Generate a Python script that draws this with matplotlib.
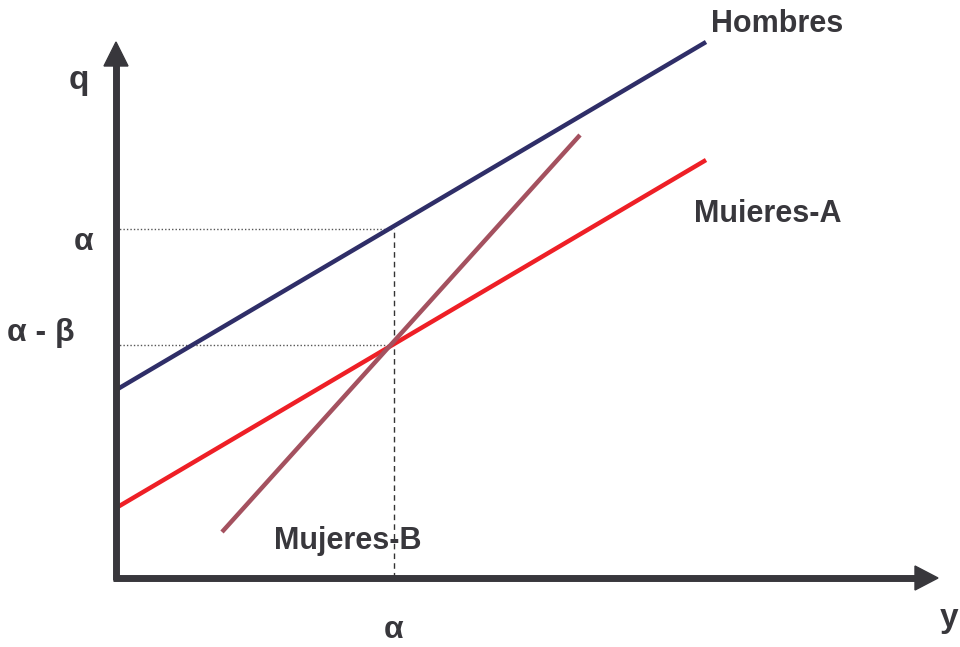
import matplotlib
matplotlib.use("Agg")
import matplotlib.pyplot as plt

plt.rcParams['font.family'] = ['Liberation Sans', 'DejaVu Sans']

# Schematic coordinates (origin at axis corner, y upward), in chart units
series_names = ["Hombres", "Muieres-A", "Mujeres-B"]
hombres_x = [0, 590]
hombres_y = [188, 536]
mujA_x = [0, 590]
mujA_y = [70, 418]
mujB_x = [106, 464]
mujB_y = [46, 443]
alpha_x = 278
alpha_y = 349
alpha_beta_y = 233
ytick_labels = ["α", "α - β"]
xtick_label = "α"

axis_color = "#38373c"
text_color = "#38373c"

fig = plt.figure(figsize=(9.6, 6.47), dpi=100)
ax = fig.add_axes([0, 0, 1, 1])
ax.set_xlim(-116, 844)
ax.set_ylim(-69, 578)
ax.axis('off')

# guide lines
ax.plot([0, alpha_x], [alpha_y, alpha_y], color="#555555", lw=1.0, ls=(0, (1, 1.5)))
ax.plot([0, alpha_x], [alpha_beta_y, alpha_beta_y], color="#555555", lw=1.0, ls=(0, (1, 1.5)))
ax.plot([alpha_x, alpha_x], [0, alpha_y], color="#333333", lw=1.0, ls=(0, (4, 3)))

# series lines
ax.plot(hombres_x, hombres_y, color="#2f2e68", lw=3.2, solid_capstyle='butt')
ax.plot(mujA_x, mujA_y, color="#ee1f26", lw=3.2, solid_capstyle='butt')
ax.plot(mujB_x, mujB_y, color="#a4515f", lw=3.2, solid_capstyle='butt')

# axes with arrowheads
ax.plot([0, 0], [-2, 515], color=axis_color, lw=5, solid_capstyle='butt', zorder=5)
ax.plot([-3, 800], [0, 0], color=axis_color, lw=5, solid_capstyle='butt', zorder=5)
ax.fill([-12, 12, 0], [512, 512, 536], color=axis_color, zorder=6)
ax.fill([799, 799, 822], [-12, 12, 0], color=axis_color, zorder=6)

# labels
fs = 22
ax.text(595, 554, series_names[0], fontsize=fs, fontweight='bold', color=text_color, ha='left', va='center')
ax.text(578, 364, series_names[1], fontsize=fs, fontweight='bold', color=text_color, ha='left', va='center')
ax.text(158, 37, series_names[2], fontsize=fs, fontweight='bold', color=text_color, ha='left', va='center')
ax.text(-32, 336, ytick_labels[0], fontsize=23, fontweight='bold', color=text_color, ha='center', va='center')
ax.text(-75, 245, ytick_labels[1], fontsize=23, fontweight='bold', color=text_color, ha='center', va='center')
ax.text(alpha_x, -52, xtick_label, fontsize=23, fontweight='bold', color=text_color, ha='center', va='center')
ax.text(-37, 498, "q", fontsize=24, fontweight='bold', color=text_color, ha='center', va='center')
ax.text(833, -40, "y", fontsize=24, fontweight='bold', color=text_color, ha='center', va='center')

fig.savefig("out.png", dpi=100)
